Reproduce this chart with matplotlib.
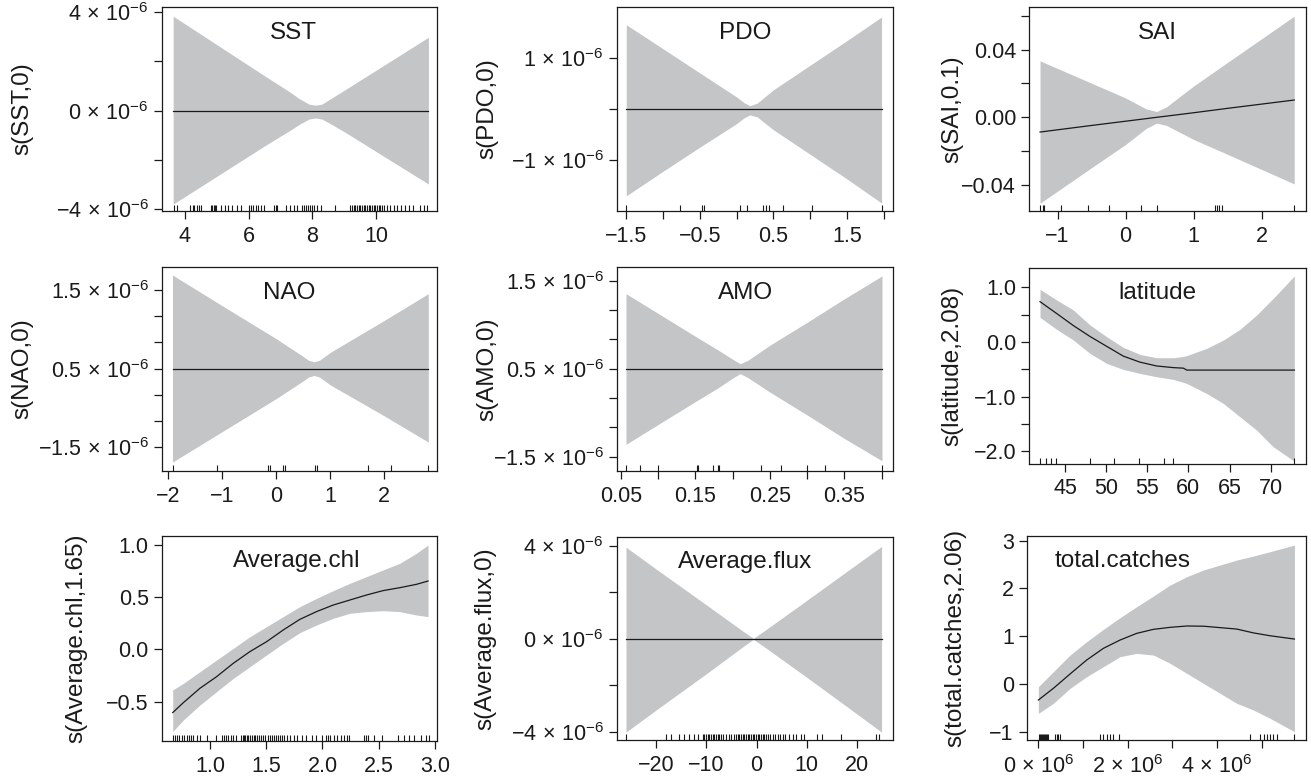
import matplotlib
matplotlib.use('Agg')
import matplotlib.pyplot as plt

plt.rcParams['font.family'] = ['Liberation Sans', 'DejaVu Sans']
plt.rcParams['mathtext.fontset'] = 'custom'
plt.rcParams['mathtext.rm'] = 'Liberation Sans'
plt.rcParams['mathtext.it'] = 'Liberation Sans:italic'
plt.rcParams['mathtext.bf'] = 'Liberation Sans:bold'

W, H = 1311, 781
BAND = '#c4c5c7'
INK = '#1a1a1a'
FS = 15.5      # tick labels
FS_T = 17.5    # panel names and axis labels

# ---- SST ----
sst_x = [3.63, 4.5, 5.5, 6.5, 7.3, 7.6, 7.9, 8.1, 8.3, 8.6, 9.0, 10.0, 11.0, 11.65]
sst_fit = [0, 0, 0, 0, 0, 0, 0, 0, 0, 0, 0, 0, 0, 0]
sst_hi = [3.82e-6, 3.09e-6, 2.25e-6, 1.41e-6, 0.75e-6, 0.48e-6, 0.26e-6, 0.22e-6, 0.26e-6,
          0.5e-6, 0.82e-6, 1.63e-6, 2.44e-6, 2.97e-6]
sst_lo = [-3.78e-6, -3.07e-6, -2.25e-6, -1.43e-6, -0.8e-6, -0.55e-6, -0.34e-6, -0.3e-6, -0.34e-6,
          -0.55e-6, -0.85e-6, -1.65e-6, -2.45e-6, -2.97e-6]
sst_rug = [3.65, 3.75, 4.17, 4.24, 4.29, 4.37, 4.43, 4.5, 4.81, 4.86, 4.9, 4.94, 4.98, 5.13,
           5.25, 5.36, 5.47, 5.63, 5.77, 6.01, 6.09, 6.15, 6.23, 6.3, 6.38, 6.48, 6.8, 6.85,
           6.9, 7.19, 7.3, 7.44, 7.51, 7.68, 7.74, 7.8, 7.86, 7.92, 8.0, 8.07, 8.15, 8.26,
           8.73, 9.2, 9.25, 9.3, 9.35, 9.41, 9.46, 9.51, 9.56, 9.62, 9.67, 9.72, 9.77, 9.82,
           9.88, 9.93, 9.98, 10.03, 10.09, 10.14, 10.19, 10.24, 10.35, 10.45, 10.56, 10.66,
           10.78, 10.92, 11.03, 11.18, 11.37, 11.5, 11.62]

# ---- PDO ----
pdo_x = [-1.5, -1.0, -0.5, 0.0, 0.1, 0.18, 0.28, 0.5, 1.0, 1.5, 1.97]
pdo_fit = [0, 0, 0, 0, 0, 0, 0, 0, 0, 0, 0]
pdo_hi = [1.65e-6, 1.18e-6, 0.71e-6, 0.24e-6, 0.13e-6, 0.07e-6, 0.12e-6, 0.38e-6, 0.86e-6, 1.34e-6, 1.8e-6]
pdo_lo = [-1.69e-6, -1.21e-6, -0.74e-6, -0.28e-6, -0.17e-6, -0.11e-6, -0.15e-6, -0.4e-6, -0.88e-6,
          -1.36e-6, -1.83e-6]
pdo_rug = [-1.5, -0.776, -0.468, -0.45, 0.047, 0.147, 0.355, 0.396, 0.446, 0.636, 1.02, 1.97]

# ---- SAI ----
sai_x = [-1.258, -0.5, 0.0, 0.3, 0.455, 0.6, 1.0, 1.5, 2.0, 2.477]
sai_fit = [-0.0087, -0.0048, -0.0023, -0.0008, 0.0, 0.0007, 0.0027, 0.0053, 0.0078, 0.0102]
sai_hi = [0.0333, 0.0201, 0.0114, 0.005, 0.0034, 0.0062, 0.0185, 0.0325, 0.0464, 0.0597]
sai_lo = [-0.0507, -0.0297, -0.016, -0.0066, -0.0034, -0.0048, -0.0131, -0.0219, -0.0308, -0.0393]
sai_rug = [-1.258, -1.219, -1.194, -0.95, -0.548, -0.24, 0.225, 0.455, 1.312, 1.346, 1.375,
           1.41, 2.477]

# ---- NAO ----
nao_x = [-1.92, -1.0, 0.0, 0.4, 0.6, 0.7, 0.8, 1.0, 2.0, 2.815]
nao_fit = [0, 0, 0, 0, 0, 0, 0, 0, 0, 0]
nao_hi = [1.785e-6, 1.2e-6, 0.57e-6, 0.3e-6, 0.16e-6, 0.13e-6, 0.16e-6, 0.31e-6, 0.92e-6, 1.43e-6]
nao_lo = [-1.78e-6, -1.2e-6, -0.57e-6, -0.3e-6, -0.16e-6, -0.13e-6, -0.16e-6, -0.31e-6, -0.9e-6, -1.4e-6]
nao_rug = [-1.92, -1.105, -0.16, -0.117, 0.117, 0.16, 0.716, 0.747, 1.70, 2.12, 2.815]

# ---- AMO ----
amo_x = [0.0567, 0.1, 0.15, 0.18, 0.2, 0.21, 0.22, 0.25, 0.3, 0.35, 0.4005]
amo_fit = [0, 0, 0, 0, 0, 0, 0, 0, 0, 0, 0]
amo_hi = [1.278e-6, 0.94e-6, 0.55e-6, 0.32e-6, 0.16e-6, 0.085e-6, 0.14e-6, 0.4e-6, 0.79e-6, 1.19e-6, 1.58e-6]
amo_lo = [-1.29e-6, -0.95e-6, -0.56e-6, -0.33e-6, -0.16e-6, -0.085e-6, -0.15e-6, -0.4e-6, -0.79e-6,
          -1.19e-6, -1.57e-6]
amo_rug = [0.0567, 0.0755, 0.1001, 0.1525, 0.1538, 0.1731, 0.1807, 0.182, 0.238, 0.2644,
           0.2993, 0.324, 0.4005]

# ---- latitude ----
lat_x = [41.96, 43.99, 46.01, 48.04, 50.06, 52.09, 54.12, 56.14, 58.17, 59.4, 59.8, 62.22,
         64.25, 66.27, 68.30, 70.32, 72.88]
lat_fit = [0.737, 0.52, 0.3, 0.1, -0.08, -0.26, -0.37, -0.44, -0.47, -0.48, -0.515, -0.515,
           -0.515, -0.515, -0.515, -0.515, -0.515]
lat_hi = [0.963, 0.768, 0.585, 0.31, 0.096, -0.1, -0.228, -0.289, -0.289, -0.265, -0.25, -0.118,
          0.035, 0.23, 0.493, 0.798, 1.208]
lat_lo = [0.45, 0.23, 0.035, -0.21, -0.393, -0.503, -0.576, -0.637, -0.686, -0.74, -0.76, -0.943,
          -1.126, -1.37, -1.615, -1.92, -2.183]
lat_rug = [41.96, 42.65, 43.26, 43.87, 48.04, 50.96, 54.04, 57.03, 58.09, 72.88]

# ---- Average.chl ----
chl_x = [0.669, 0.763, 0.911, 1.059, 1.207, 1.355, 1.503, 1.651, 1.799, 1.947, 2.095, 2.243,
         2.391, 2.538, 2.686, 2.834, 2.938]
chl_fit = [-0.605, -0.51, -0.372, -0.261, -0.133, -0.021, 0.074, 0.186, 0.288, 0.362, 0.425,
           0.473, 0.521, 0.563, 0.591, 0.623, 0.655]
chl_hi = [-0.388, -0.325, -0.213, -0.101, 0.01, 0.122, 0.218, 0.314, 0.41, 0.489, 0.563, 0.633,
          0.697, 0.761, 0.824, 0.92, 1.0]
chl_lo = [-0.787, -0.676, -0.532, -0.404, -0.277, -0.165, -0.053, 0.058, 0.161, 0.234, 0.298,
          0.346, 0.362, 0.371, 0.362, 0.33, 0.314]
chl_rug = [0.667, 0.688, 0.708, 0.726, 0.747, 0.768, 0.792, 0.81, 0.827, 0.845, 0.881, 0.911,
           0.976, 1.054, 1.104, 1.125, 1.143, 1.164, 1.185, 1.208, 1.232, 1.274, 1.292, 1.304,
           1.315, 1.327, 1.342, 1.357, 1.372, 1.387, 1.402, 1.417, 1.432, 1.452, 1.47, 1.491,
           1.512, 1.536, 1.551, 1.565, 1.583, 1.601, 1.619, 1.64, 1.661, 1.685, 1.708, 1.744,
           1.774, 1.818, 1.857, 1.908, 1.938, 1.997, 2.027, 2.048, 2.071, 2.101, 2.131, 2.161,
           2.19, 2.22, 2.235, 2.369, 2.387, 2.405, 2.458, 2.533, 2.667, 2.726, 2.771, 2.815,
           2.875, 2.92, 2.949]

# ---- Average.flux ----
flux_x = [-26.05, -20, -10, -3, -0.66, 2, 10, 20, 24.9]
flux_fit = [0, 0, 0, 0, 0, 0, 0, 0, 0]
flux_hi = [3.95e-6, 3.0e-6, 1.46e-6, 0.37e-6, 0.02e-6, 0.42e-6, 1.66e-6, 3.22e-6, 3.98e-6]
flux_lo = [-4.02e-6, -3.06e-6, -1.5e-6, -0.38e-6, -0.02e-6, -0.42e-6, -1.66e-6, -3.24e-6, -4.02e-6]
flux_rug = [-26.1, -18.0, -17.0, -15.5, -14.4, -13.4, -12.4, -11.7, -10.7, -10.4, -10.1, -9.75,
            -9.42, -9.09, -8.76, -8.42, -8.09, -7.76, -7.43, -7.1, -6.63, -6.1, -5.57, -5.04,
            -4.44, -4.11, -3.78, -3.45, -3.12, -2.79, -2.45, -2.12, -1.79, -1.46, -1.13, -0.8,
            -0.46, -0.13, 0.2, 0.53, 0.86, 1.19, 1.53, 1.86, 2.19, 2.65, 3.18, 3.71, 4.18, 4.64,
            5.17, 5.7, 6.5, 7.16, 7.83, 8.82, 9.49, 12.1, 13.1, 16.8, 23.7, 24.4]

# ---- total.catches ----
tc_x = [0.0, 0.336e6, 0.709e6, 1.082e6, 1.455e6, 1.828e6, 2.201e6, 2.575e6, 2.948e6, 3.321e6,
        3.694e6, 4.067e6, 4.440e6, 4.813e6, 5.186e6, 5.731e6]
tc_fit = [-0.336, -0.091, 0.209, 0.502, 0.746, 0.92, 1.06, 1.144, 1.186, 1.214, 1.21, 1.18,
          1.15, 1.07, 1.01, 0.941]
tc_hi = [-0.057, 0.257, 0.606, 0.886, 1.144, 1.388, 1.618, 1.842, 2.072, 2.246, 2.386, 2.491,
         2.595, 2.679, 2.77, 2.909]
tc_lo = [-0.615, -0.405, -0.091, 0.153, 0.362, 0.572, 0.641, 0.606, 0.432, 0.223, 0.013,
         -0.196, -0.405, -0.545, -0.719, -0.999]
tc_rug = [0.022e6, 0.045e6, 0.067e6, 0.09e6, 0.112e6, 0.134e6, 0.157e6, 0.179e6, 0.2e6,
          0.224e6, 0.373e6, 0.41e6, 0.448e6, 0.485e6, 1.38e6, 1.455e6, 1.53e6, 1.604e6,
          1.68e6, 1.81e6, 4.74e6, 4.96e6, 5.04e6, 5.11e6, 5.19e6, 5.26e6, 5.34e6, 5.73e6]

M = '\u2212'


def sci(s, exp=M + '6'):
    # "4 x 10^-6" style label, as R prints it
    return '$' + s + r'\,\times\,10^{' + exp + '}$'


fig = plt.figure(figsize=(W / 100, H / 100), dpi=100)


def smooth_panel(box, x, fit, lo, hi, rug, title, ylabel, xlim, ylim,
                 xticks, xlabels, yticks, ylabels, title_x=0.465, ylabel_px=22):
    left, top, right, bottom = box
    ax = fig.add_axes([left / W, 1 - bottom / H, (right - left) / W, (bottom - top) / H])
    ax.fill_between(x, lo, hi, color=BAND, lw=0)
    ax.plot(x, fit, color=INK, lw=0.9)
    ax.vlines(rug, 0, 0.03, transform=ax.get_xaxis_transform(), color=INK, lw=0.8)
    ax.set_xlim(*xlim)
    ax.set_ylim(*ylim)
    ax.set_xticks(xticks)
    ax.set_xticklabels(xlabels)
    ax.set_yticks(yticks)
    ax.set_yticklabels(ylabels)
    ax.tick_params(direction='out', length=5.8, width=0.9, color=INK, labelcolor=INK,
                   labelsize=FS)
    ax.tick_params(axis='x', pad=5.0)
    ax.tick_params(axis='y', pad=3.5)
    for sp in ax.spines.values():
        sp.set_linewidth(0.9)
        sp.set_color(INK)
    ax.text(title_x, 0.875, title, transform=ax.transAxes, ha='center', va='center',
            fontsize=FS_T, color=INK)
    ax.set_ylabel(ylabel, fontsize=FS_T, color=INK, va='center')
    ax.yaxis.set_label_coords((ylabel_px - left) / (right - left), 0.5)
    return ax


# row 1
smooth_panel((161.7, 7.3, 436.7, 210.7), sst_x, sst_fit, sst_lo, sst_hi, sst_rug,
             'SST', 's(SST,0)', (3.27, 11.91), (-4.05e-6, 4.18e-6),
             [4, 6, 8, 10], ['4', '6', '8', '10'],
             [-4e-6, -2e-6, 0, 2e-6, 4e-6], [sci(M + '4'), '', sci('0'), '', sci('4')],
             title_x=0.478, ylabel_px=22)
smooth_panel((616.7, 7.3, 893.3, 210.7), pdo_x, pdo_fit, pdo_lo, pdo_hi, pdo_rug,
             'PDO', 's(PDO,0)', (-1.63, 2.13), (-1.98e-6, 1.99e-6),
             [-1.5, -1, -0.5, 0, 0.5, 1, 1.5, 2],
             [M + '1.5', '', M + '0.5', '', '0.5', '', '1.5', ''],
             [-1e-6, 0, 1e-6], [sci(M + '1'), '', sci('1')],
             ylabel_px=487)
smooth_panel((1029, 7.3, 1306, 210.7), sai_x, sai_fit, sai_lo, sai_hi, sai_rug,
             'SAI', 's(SAI,0.1)', (-1.42, 2.65), (-0.0551, 0.0649),
             [-1, 0, 1, 2], [M + '1', '0', '1', '2'],
             [-0.04, -0.02, 0, 0.02, 0.04, 0.06], [M + '0.04', '', '0.00', '', '0.04', ''],
             ylabel_px=952)

# row 2
nao_ticks = [-1.5e-6, -1e-6, -0.5e-6, 0, 0.5e-6, 1e-6, 1.5e-6]
nao_labels = [sci(M + '1.5'), '', '', sci('0.5'), '', '', sci('1.5')]
smooth_panel((161.7, 267.3, 436.7, 470.7), nao_x, nao_fit, nao_lo, nao_hi, nao_rug,
             'NAO', 's(NAO,0)', (-2.12, 2.97), (-1.945e-6, 1.932e-6),
             [-2, -1, 0, 1, 2], [M + '2', M + '1', '0', '1', '2'],
             nao_ticks, nao_labels, ylabel_px=22)
smooth_panel((616.7, 267.3, 893.3, 470.7), amo_x, amo_fit, amo_lo, amo_hi, amo_rug,
             'AMO', 's(AMO,0)', (0.0442, 0.4157), (-1.739e-6, 1.727e-6),
             [0.05, 0.10, 0.15, 0.20, 0.25, 0.30, 0.35, 0.40],
             ['0.05', '', '0.15', '', '0.25', '', '0.35', ''],
             nao_ticks, nao_labels, ylabel_px=487)
smooth_panel((1029, 268.3, 1306, 463.5), lat_x, lat_fit, lat_lo, lat_hi, lat_rug,
             'latitude', 's(latitude,2.08)', (40.62, 74.3), (-2.225, 1.348),
             [45, 50, 55, 60, 65, 70], ['45', '50', '55', '60', '65', '70'],
             [-2.0, -1.5, -1.0, -0.5, 0.0, 0.5, 1.0],
             [M + '2.0', '', M + '1.0', '', '0.0', '', '1.0'], ylabel_px=952)

# row 3
smooth_panel((161.7, 535.7, 436.7, 740.7), chl_x, chl_fit, chl_lo, chl_hi, chl_rug,
             'Average.chl', 's(Average.chl,1.65)', (0.571, 3.015), (-0.874, 1.089),
             [1.0, 1.5, 2.0, 2.5, 3.0], ['1.0', '1.5', '2.0', '2.5', '3.0'],
             [-0.5, 0.0, 0.5, 1.0], [M + '0.5', '0.0', '0.5', '1.0'],
             title_x=0.49, ylabel_px=76)
smooth_panel((616.7, 536.7, 893.3, 740.0), flux_x, flux_fit, flux_lo, flux_hi, flux_rug,
             'Average.flux', 's(Average.flux,0)', (-27.9, 27.24), (-4.36e-6, 4.40e-6),
             [-20, -10, 0, 10, 20], [M + '20', M + '10', '0', '10', '20'],
             [-4e-6, -2e-6, 0, 2e-6, 4e-6], [sci(M + '4'), '', sci('0'), '', sci('4')],
             ylabel_px=485)
smooth_panel((1026.7, 535.7, 1306, 740.0), tc_x, tc_fit, tc_lo, tc_hi, tc_rug,
             'total.catches', 's(total.catches,2.06)', (-0.261e6, 5.99e6), (-1.173, 3.105),
             [0, 1e6, 2e6, 3e6, 4e6, 5e6],
             [sci('0', '6'), '', sci('2', '6'), '', sci('4', '6'), ''],
             [-1, 0, 1, 2, 3], [M + '1', '0', '1', '2', '3'],
             title_x=0.344, ylabel_px=955)

fig.savefig('out.png', dpi=100, facecolor='white')
